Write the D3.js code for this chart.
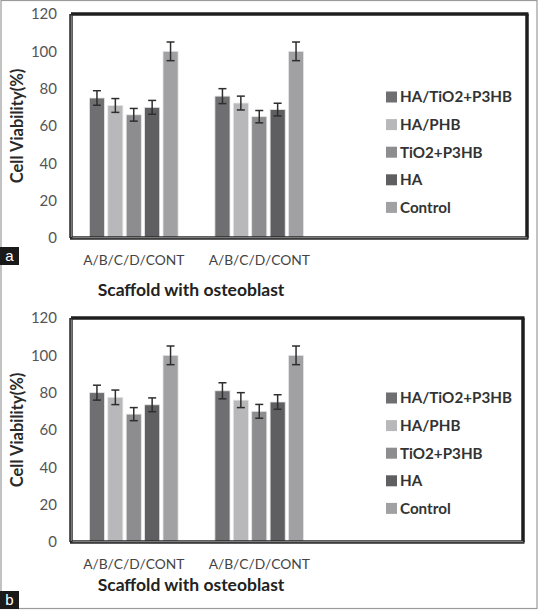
<!DOCTYPE html>
<html>
<head>
<meta charset="utf-8">
<script src="https://cdn.jsdelivr.net/npm/d3@7"></script>
<style>
  html, body { margin: 0; padding: 0; background: #fff; }
  svg { display: block; font-family: Lato, "Open Sans", "Liberation Sans", sans-serif; }
</style>
</head>
<body>
<svg id="chart" width="539" height="610"></svg>
<script>
// ---------- data ----------
const groupLabels = ["A/B/C/D/CONT", "A/B/C/D/CONT"];
const seriesNames = ["HA/TiO2+P3HB", "HA/PHB", "TiO2+P3HB", "HA", "Control"];
const seriesColors = ["#6f6f72", "#b8b8ba", "#8d8d90", "#5f5f62", "#a1a1a4"];
const yTicks = [0, 20, 40, 60, 80, 100, 120];

// panel a: values per group (one entry per series)
const panelAGroup1 = [75, 71, 66, 70, 100];
const panelAGroup2 = [76, 72.3, 65, 68.8, 100];
const panelAErr1 = [3.9, 3.7, 3.4, 3.7, 5];
const panelAErr2 = [4, 3.7, 3.3, 3.4, 5];

// panel b
const panelBGroup1 = [80, 77.5, 68.5, 73.5, 100];
const panelBGroup2 = [81, 76, 70, 75, 100];
const panelBErr1 = [4, 3.9, 3.5, 3.7, 5];
const panelBErr2 = [4.3, 4, 3.7, 3.9, 5];

const xTitle = "Scaffold with osteoblast";
const yTitle = "Cell Viability(%)";

// ---------- drawing ----------
const svg = d3.select("#chart");

// outer border
svg.append("rect").attr("x", 1).attr("y", 0.5).attr("width", 536).attr("height", 608)
  .attr("fill", "none").attr("stroke", "#9a9a9a").attr("stroke-width", 1.2);

function drawPanel(cfg) {
  const g = svg.append("g");
  const { left, top, right, bottom } = cfg.frame;
  const y = d3.scaleLinear().domain([0, 120]).range([bottom, top]);
  const x0 = d3.scaleBand().domain(d3.range(groupLabels.length)).range([left, 322]).padding(0);
  const x1 = d3.scaleBand().domain(seriesNames).range([0, x0.bandwidth()])
    .paddingInner(0.18).paddingOuter(1.0);

  // bars
  cfg.groups.forEach((vals, gi) => {
    const gg = g.append("g").attr("transform", `translate(${x0(gi)},0)`);
    gg.selectAll("rect").data(vals).join("rect")
      .attr("x", (d, i) => x1(seriesNames[i]))
      .attr("y", d => y(d))
      .attr("width", x1.bandwidth())
      .attr("height", d => y(0) - y(d))
      .attr("fill", (d, i) => seriesColors[i])
      .attr("stroke", "#e6e6e6").attr("stroke-width", 0.8);
    // error bars
    const errs = cfg.errors[gi];
    const eb = gg.selectAll("g.err").data(vals).join("g").attr("class", "err")
      .attr("stroke", "#2e2e2e").attr("stroke-width", 1.5);
    eb.append("line")
      .attr("x1", (d, i) => x1(seriesNames[i]) + x1.bandwidth() / 2)
      .attr("x2", (d, i) => x1(seriesNames[i]) + x1.bandwidth() / 2)
      .attr("y1", (d, i) => y(d + errs[i])).attr("y2", (d, i) => y(d - errs[i]));
    [1, -1].forEach(s => {
      eb.append("line")
        .attr("x1", (d, i) => x1(seriesNames[i]) + x1.bandwidth() / 2 - 4)
        .attr("x2", (d, i) => x1(seriesNames[i]) + x1.bandwidth() / 2 + 4)
        .attr("y1", (d, i) => y(d + s * errs[i])).attr("y2", (d, i) => y(d + s * errs[i]));
    });
  });

  // frame: top & right thick black, left & bottom double lines
  g.append("line").attr("x1", left).attr("x2", right + 1.5).attr("y1", top).attr("y2", top)
    .attr("stroke", "#1e1e1e").attr("stroke-width", 3.5);
  g.append("line").attr("x1", right).attr("x2", right).attr("y1", top).attr("y2", bottom)
    .attr("stroke", "#1e1e1e").attr("stroke-width", 3.5);
  g.append("line").attr("x1", left - 1).attr("x2", right + 1.5).attr("y1", bottom).attr("y2", bottom)
    .attr("stroke", "#2a2a2a").attr("stroke-width", 3.5);
  g.append("line").attr("x1", left).attr("x2", left).attr("y1", top).attr("y2", bottom)
    .attr("stroke", "#2a2a2a").attr("stroke-width", 3.5);
  g.append("line").attr("x1", left + 1.5).attr("x2", right).attr("y1", bottom - 0.3).attr("y2", bottom - 0.3)
    .attr("stroke", "#9a9a9a").attr("stroke-width", 0.9);
  g.append("line").attr("x1", left + 0.3).attr("x2", left + 0.3).attr("y1", top + 1.5).attr("y2", bottom - 1)
    .attr("stroke", "#9a9a9a").attr("stroke-width", 0.9);

  // y axis labels
  const ya = g.append("g").attr("transform", `translate(${left},0)`)
    .call(d3.axisLeft(y).tickValues(yTicks).tickSize(0).tickPadding(14));
  ya.select(".domain").remove();
  ya.selectAll("text").attr("font-size", 15).attr("fill", "#555").attr("font-family", "Lato, 'Open Sans', sans-serif");

  // x axis labels
  const xa = g.append("g").attr("transform", `translate(0,${bottom})`)
    .call(d3.axisBottom(x0).tickSize(0).tickPadding(17).tickFormat(i => groupLabels[i]));
  xa.select(".domain").remove();
  xa.selectAll("text").attr("font-size", 13.8).attr("fill", "#444").attr("font-family", "Lato, 'Open Sans', sans-serif");

  // titles
  g.append("text").attr("x", 191).attr("y", cfg.xTitleY).attr("text-anchor", "middle")
    .attr("font-size", 17.5).attr("font-weight", "bold").attr("fill", "#222").text(xTitle);
  g.append("text").attr("transform", `translate(23,${(top + bottom) / 2}) rotate(-90)`)
    .attr("text-anchor", "middle").attr("font-size", 16.5).attr("font-weight", "bold")
    .attr("fill", "#2a2a2a").text(yTitle);

  // legend
  const lg = g.append("g").attr("transform", `translate(386,${cfg.legendTop})`);
  const items = lg.selectAll("g").data(seriesNames).join("g")
    .attr("transform", (d, i) => `translate(0,${i * 27.6})`);
  items.append("rect").attr("x", 0).attr("y", -5.5).attr("width", 11).attr("height", 11)
    .attr("fill", (d, i) => seriesColors[i]);
  items.append("text").attr("x", 14).attr("y", 0).attr("dy", "0.35em")
    .attr("font-size", 15.2).attr("font-weight", "bold").attr("fill", "#333").text(d => d);

  // panel letter
  g.append("rect").attr("x", 0).attr("y", cfg.letterY).attr("width", 19).attr("height", 18).attr("fill", "#1a1a1a");
  g.append("text").attr("x", 9.5).attr("y", cfg.letterY + 9).attr("dy", "0.35em").attr("text-anchor", "middle")
    .attr("font-size", 15).attr("fill", "#fff").attr("font-family", "'Liberation Sans', Arial, sans-serif").text(cfg.letter);
}

drawPanel({
  frame: { left: 71, top: 14, right: 527, bottom: 238 },
  groups: [panelAGroup1, panelAGroup2],
  errors: [panelAErr1, panelAErr2],
  xTitleY: 296, legendTop: 97, letter: "a", letterY: 247
});
drawPanel({
  frame: { left: 71, top: 318, right: 523, bottom: 542 },
  groups: [panelBGroup1, panelBGroup2],
  errors: [panelBErr1, panelBErr2],
  xTitleY: 591, legendTop: 398, letter: "b", letterY: 591
});
</script>
</body>
</html>
